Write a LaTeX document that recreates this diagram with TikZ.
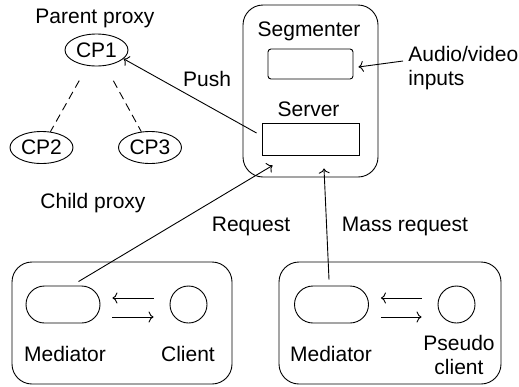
\documentclass[tikz,border=0pt]{standalone}
\usepackage{fontspec}
\setmainfont{Liberation Sans}
\usetikzlibrary{shapes,arrows,arrows.meta}
\tikzstyle{every node}=[font=\fontsize{21}{24}\selectfont]
\tikzstyle{proxy}=[draw, ellipse, minimum width=63pt, minimum height=32pt, inner sep=0pt]
\tikzstyle{panel}=[draw, rounded corners=20pt, inner sep=0pt]
\tikzstyle{slot}=[draw, inner sep=0pt]
\tikzstyle{mediator}=[draw, rounded rectangle, minimum width=74pt, minimum height=37pt, inner sep=0pt]
\tikzstyle{client}=[draw, circle, minimum size=37pt, inner sep=0pt]
\tikzstyle{label}=[anchor=base, inner sep=0pt]

\begin{document}
\begin{tikzpicture}[x=1pt, y=-1pt, line width=0.9pt, >={To[length=5pt,width=11pt]}]
\useasboundingbox (0,0) rectangle (519,386);
% proxies
\node[label] at (95,23.5) {Parent proxy};
\node[proxy] (cp1) at (96.5,50) {CP1};
\node[proxy] (cp2) at (41.5,147.5) {CP2};
\node[proxy] (cp3) at (150,147.5) {CP3};
\node[label] at (93,208) {Child proxy};
\draw[dashed, dash pattern=on 8pt off 5pt, shorten <=17pt] (cp1) -- (cp2);
\draw[dashed, dash pattern=on 8pt off 5pt, shorten <=17pt] (cp1) -- (cp3);
% host
\node[panel, minimum width=135pt, minimum height=172pt] (host) at (310.5,91) {};
\node[label] at (309,36.5) {Segmenter};
\node[slot, rounded corners=3pt, minimum width=85pt, minimum height=30pt] (seg) at (310.5,64) {};
\node[label] at (308.5,116) {Server};
\node[slot, minimum width=97pt, minimum height=32pt] (srv) at (310.5,139) {};
\node[anchor=west, align=left, inner sep=0pt] (av) at (408,68.5) {Audio/video\\inputs};
\draw[->] ([shift={(-5,-7.5)}]av.west) -- ([xshift=5pt,yshift=-3pt]seg.east);
\draw[->] ([shift={(-5,-6)}]srv.west) -- (cp1.-18);
\node[label] at (207,86) {Push};
% clients
\node[panel, minimum width=220pt, minimum height=122pt] (box1) at (122,323) {};
\node[panel, minimum width=222pt, minimum height=122pt] (box2) at (390,323) {};
\node[mediator] (med1) at (63,304.5) {};
\node[client] (cl1) at (188.5,304.5) {};
\node[mediator] (med2) at (331.5,304.5) {};
\node[client] (cl2) at (456.5,304.5) {};
\node[label] at (65,361) {Mediator};
\node[label] at (188,361) {Client};
\node[label] at (331,361) {Mediator};
\node[align=center, inner sep=0pt] at (459,354.5) {Pseudo\\client};
\foreach \m/\c in {med1/cl1, med2/cl2} {
  \draw[->] ([shift={(-16,-6.5)}]\c.west) -- ([shift={(12,-6.5)}]\m.east);
  \draw[->] ([shift={(12,12.5)}]\m.east) -- ([shift={(-16,12.5)}]\c.west);
}
\draw[->] ([shift={(-3,-4)}]med1.north east) -- ([shift={(11,10)}]srv.south west);
\draw[->] ([shift={(-2.5,-6)}]med2.north) -- ([shift={(13.5,13)}]srv.south);
\node[label] at (251,231.5) {Request};
\node[label] at (405,231.5) {Mass request};
\end{tikzpicture}
\end{document}
